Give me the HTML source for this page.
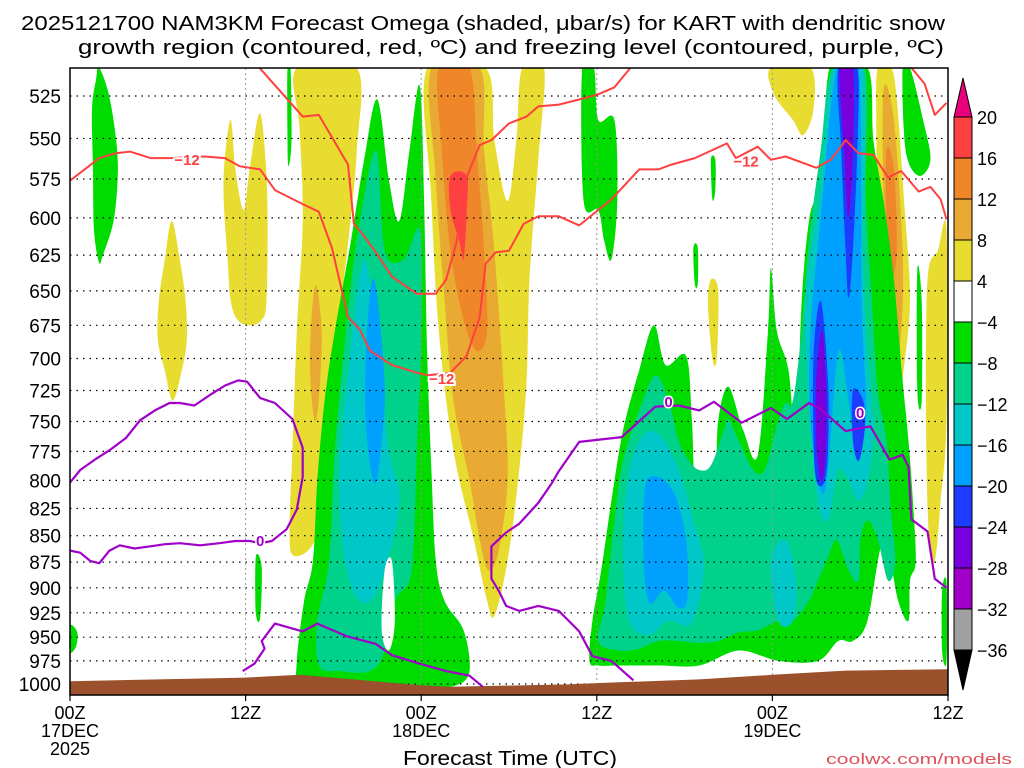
<!DOCTYPE html>
<html><head><meta charset="utf-8">
<style>
html,body{margin:0;padding:0;background:#fff;}
svg{display:block;font-family:"Liberation Sans",sans-serif;}
</style></head>
<body>
<svg id="chart" width="1024" height="768" viewBox="0 0 1024 768" xmlns="http://www.w3.org/2000/svg">
<rect x="0" y="0" width="1024" height="768" fill="#fff"/>
<text x="21" y="30" font-size="20" textLength="924" lengthAdjust="spacingAndGlyphs" fill="#000">2025121700 NAM3KM Forecast Omega (shaded, μbar/s) for KART with dendritic snow</text>
<text x="78" y="54" font-size="20" textLength="866" lengthAdjust="spacingAndGlyphs" fill="#000">growth region (contoured, red, ºC) and freezing level (contoured, purple, ºC)</text>
<defs><clipPath id="plotclip"><rect x="70" y="68" width="878" height="627"/></clipPath></defs>
<g id="shading" clip-path="url(#plotclip)"></g>
<g id="grid"></g>
<g id="terrain" clip-path="url(#plotclip)"></g>
<g id="contours" clip-path="url(#plotclip)"></g>
<rect x="70" y="68" width="878" height="627" fill="none" stroke="#000" stroke-width="1.5"/>
<g id="yaxis"></g>
<g id="xaxis"></g>
<text x="403" y="765" font-size="20" textLength="214" lengthAdjust="spacingAndGlyphs" fill="#000">Forecast Time (UTC)</text>
<text x="826" y="764" font-size="15" textLength="186" lengthAdjust="spacingAndGlyphs" fill="#e0505a">coolwx.com/models</text>
<g id="colorbar"></g>
</svg>
<script>
// ---- data ----
const pressureLevels = [525,550,575,600,625,650,675,700,725,750,775,800,825,850,875,900,925,950,975,1000];
const timeTickHours = [0,12,24,36,48,60];
const timeTickLabels = [["00Z","17DEC","2025"],["12Z"],["00Z","18DEC"],["12Z"],["00Z","19DEC"],["12Z"]];
const colorbarLabels = [20,16,12,8,4,-4,-8,-12,-16,-20,-24,-28,-32,-36];
const colorbarColors = ["#ff4040","#f0862a","#e8aa32","#e8dc30","#ffffff","#00dc00","#00d28c","#00c8c8","#00a0ff","#1e3cff","#7800dc","#a000c8","#a0a0a0"];

// shaded areas, points are [forecast hour, pressure hPa]
const yellowAreas = [
 [[6.95,602],[7.5,628],[7.9,657],[7.98,686],[7.64,709],[7.02,733],[6.48,709],[6.0,686],[6.07,657],[6.48,628]],
 [[10.98,539],[11.3,569],[11.86,595],[12.27,569],[12.95,535],[13.36,563],[13.5,601],[13.43,657],[13.1,671],[12.27,675],[11.45,671],[10.98,657],[10.77,628],[10.5,588],[10.57,563]],
 [[15.5,509],[19.6,509],[19.6,557],[19.1,608],[18.3,679],[17.7,749],[17.4,800],[16.7,855],[15.3,869],[15.0,845],[15.2,774],[15.5,679],[15.9,602],[15.7,545]],
 [[24.4,509],[28.4,509],[29.0,551],[29.9,589],[30.5,551],[30.9,509],[32.4,509],[32.0,563],[31.4,642],[31.2,717],[30.7,791],[29.9,874],[29.0,928],[28.5,913],[27.6,854],[26.2,774],[25.2,679],[24.7,589]],
 [[47.9,509],[50.6,509],[50.8,533],[50.1,548],[49.4,539],[48.1,524]],
 [[43.8,642],[44.3,650],[44.2,700],[43.9,700],[43.6,660]],
 [[55.2,509],[56.1,509],[56.5,527],[57.0,589],[57.4,657],[56.9,717],[56.6,766],[56.1,717],[55.6,657],[55.2,589],[55.1,539]],
 [[58.6,642],[59.3,622],[59.9,608],[59.9,749],[59.5,818],[59.1,874],[58.7,854],[58.5,749]]
];
const lightOrangeAreas = [
 [[16.8,646],[17.2,679],[17.0,733],[16.7,749],[16.4,709],[16.5,671]],
 [[24.7,509],[28.0,509],[28.3,557],[29.0,622],[29.7,733],[29.9,800],[29.3,864],[28.6,883],[28.0,854],[27.3,800],[26.2,733],[25.6,657],[25.0,576]],
 [[55.6,521],[56.3,539],[56.9,622],[56.8,679],[56.4,701],[55.9,657],[55.6,589]]
];
const orangeAreas = [
 [[25.2,509],[27.3,509],[27.8,557],[28.3,622],[28.5,679],[27.8,694],[26.9,671],[26.0,622],[25.4,557]],
 [[55.8,557],[56.3,569],[56.5,622],[56.1,642],[55.8,602]]
];
const redAreas = [
 [[26.0,573],[27.1,573],[27.1,598],[26.9,628],[26.6,615],[26.0,595]]
];
const greenAreas = [
 [[1.98,509],[2.59,522],[3.07,545],[3.27,569],[3.0,601],[2.25,625],[1.98,630],[1.64,608],[1.57,569],[1.5,533],[1.77,516]],
 [[0,938],[0.5,945],[0.4,960],[0,965]],
 [[14.86,509],[15.07,509],[15.14,551],[14.93,567],[14.86,551]],
 [[12.7,870],[13.1,880],[13.0,930],[12.7,925]],
 [[21.0,527],[21.8,576],[22.5,602],[23.2,557],[23.9,519],[24.2,589],[24.4,694],[24.7,791],[25.0,874],[25.6,913],[26.9,943],[27.3,986],[26.3,1002],[23.9,1005],[21.1,1007],[17.7,1005],[15.7,1002],[15.5,975],[16.0,913],[16.6,874],[16.9,800],[17.4,733],[18.1,679],[19.2,615],[20.1,563]],
 [[35.0,509],[35.8,509],[36.1,539],[37.2,539],[37.4,589],[37.0,628],[36.5,615],[36.1,595],[35.1,589]],
 [[43.8,563],[44.1,563],[44.1,582],[43.9,588]],
 [[42.6,620],[42.9,620],[42.9,645],[42.7,645]],
 [[35.5,975],[35.7,933],[36.3,883],[37.0,818],[37.8,757],[38.9,709],[39.9,675],[40.7,705],[42.1,698],[42.5,749],[42.8,809],[44.0,809],[44.3,749],[45.0,722],[46.0,757],[47.0,778],[47.7,679],[47.9,634],[48.3,679],[49.1,709],[49.6,766],[50.0,657],[50.5,602],[51.0,589],[51.5,598],[51.9,509],[54.5,509],[54.9,551],[55.6,589],[56.3,642],[56.9,717],[57.3,766],[57.6,818],[57.8,874],[57.4,893],[57.3,933],[56.6,913],[55.6,854],[54.5,933],[53.5,954],[52.5,954],[51.1,975],[48.4,975],[45.7,964],[43.0,980],[40.2,980],[37.5,980],[36.1,980]],
 [[56.9,509],[57.4,509],[58.3,539],[58.8,563],[58.0,573],[57.1,557]],
 [[57.9,635],[58.2,657],[58.2,733],[57.9,725]],
 [[59.6,903],[59.9,895],[59.9,975],[59.6,965]]
];
const tealAreas = [
 [[20.9,557],[21.5,622],[22.8,628],[23.9,608],[24.0,679],[23.7,774],[23.5,854],[23.2,893],[22.2,913],[21.5,964],[20.5,986],[18.4,986],[17.0,980],[16.9,933],[17.7,874],[18.1,774],[18.8,686],[19.6,615]],
 [[36.1,954],[36.6,913],[37.2,836],[37.8,783],[38.9,741],[40.0,713],[40.9,733],[41.6,766],[42.3,783],[43.0,791],[43.8,787],[44.7,757],[45.0,748],[45.7,766],[46.7,791],[47.5,790],[48.4,749],[48.9,735],[49.4,733],[50.0,679],[50.5,615],[51.3,557],[52.1,509],[54.3,509],[54.4,589],[54.8,657],[55.2,725],[55.8,766],[56.1,827],[56.4,874],[55.9,893],[55.2,854],[54.5,836],[54.0,854],[53.9,893],[53.2,883],[52.4,854],[51.7,874],[51.1,893],[50.5,913],[49.4,933],[48.4,933],[47.0,943],[45.7,945],[44.3,954],[43.0,956],[41.6,954],[40.2,954],[38.9,962],[37.5,964]]
];
const cyanAreas = [
 [[20.1,628],[21.1,694],[21.8,774],[22.5,809],[22.2,845],[21.0,903],[19.8,913],[18.8,874],[18.4,791],[19.1,701]],
 [[38.9,766],[40.2,760],[41.6,791],[42.6,836],[43.3,873],[43.0,913],[42.3,938],[40.9,933],[39.5,948],[38.2,933],[37.8,874],[38.0,809]],
 [[47.9,874],[48.9,854],[49.6,893],[49.4,933],[48.4,933]],
 [[50.3,650],[51.3,580],[52.2,509],[54.2,509],[54.2,621],[54.5,694],[54.9,757],[54.5,800],[53.9,818],[53.2,800],[52.5,791],[51.8,836],[51.1,818],[50.6,757],[50.3,694]]
];
const skyAreas = [
 [[20.8,642],[21.5,717],[21.3,766],[20.8,803],[20.2,749],[20.3,679]],
 [[39.3,806],[40.2,797],[41.3,812],[42.1,854],[42.2,910],[41.6,920],[40.6,903],[39.6,915],[39.2,874]],
 [[50.6,679],[51.3,600],[52.4,509],[53.9,509],[54.1,657],[54.4,733],[54.2,766],[53.7,774],[53.2,733],[52.5,694],[51.8,791],[51.3,809],[50.6,749]]
];
const blueAreas = [
 [[52.5,509],[53.8,509],[53.8,557],[53.5,622],[53.2,655],[53.0,622],[52.7,557]],
 [[50.8,701],[51.3,657],[51.8,717],[51.8,774],[51.5,803],[50.9,791]],
 [[53.5,725],[54.2,733],[54.3,757],[53.9,783],[53.5,766]]
];
const purpleAreas = [
 [[52.6,509],[53.5,509],[53.5,557],[53.2,600],[52.9,557]],
 [[51.0,717],[51.4,679],[51.7,733],[51.6,783],[51.3,800],[51.0,766]]
];
const calmHoles = [
 [[21.5,883],[22.0,874],[22.2,933],[21.8,964],[21.3,943]]
];

// surface pressure (terrain) by hour
const terrainHours = [0,12,15.7,24,26,34,36,43,48,53,60];
const terrainPressure = [997,993,990,1001.5,1003,1000.5,999,995,990,985.5,984];

// -12 C contours
const dgzLineA = [[12.95,509],[15.9,537],[17.0,536],[19.0,566],[19.4,604],[20.0,611],[20.9,623],[22.0,640],[23.7,652],[25.0,652],[25.7,642],[26.4,617],[27.1,574],[28.0,554],[28.8,551],[30.0,541],[31.2,537],[32.0,531],[33.4,530],[34.8,527],[36.1,524],[37.2,520],[38.3,509]];
const dgzLineB = [[0,576],[1.0,569],[2.0,562],[3.1,559],[4.1,558],[5.5,562],[6.8,562],[9.2,561],[10.6,562],[11.6,567],[13.0,569],[14.0,582],[15.9,591],[17.0,596],[17.9,620],[19.0,669],[19.8,678],[20.5,694],[22.0,705],[23.7,711],[24.5,713],[26.0,711],[27.1,698],[28.0,669],[28.4,631],[29.1,623],[30.0,622],[31.0,604],[32.0,599],[33.4,599],[34.8,605],[37.0,588],[38.9,569],[40.2,569],[41.1,566],[42.7,562],[44.9,553],[45.5,562],[47.0,555],[47.9,563],[48.9,561],[51.0,568],[52.0,563],[53.0,551],[53.9,559],[54.9,560],[55.9,574],[56.8,570],[58.0,583],[58.8,580],[59.5,588],[59.9,601]];
const dgzLineC = [[57.5,509],[58.4,518],[59.1,536],[59.9,529]];
const dgzLabels = [[8.0,563],[25.4,716],[46.2,564]];

// 0 C freezing level contours
const frzLine1 = [[0,802],[0.7,791],[1.7,782],[2.7,774],[3.8,764],[4.8,749],[5.8,741],[6.8,735],[7.5,735],[8.5,737],[9.5,729],[10.6,721],[11.5,717],[12.1,718],[13.0,731],[14.0,735],[15.2,748],[15.9,772],[15.9,797],[15.5,826],[14.8,844],[13.8,855],[13.0,857],[12.3,855],[11.3,855],[10.2,857],[8.9,859],[7.5,857],[6.5,858],[5.5,860],[4.4,862],[3.4,859],[2.7,864],[2.0,876],[1.4,874],[0.7,866],[0,864]];
const frzLine2 = [[11.8,986],[12.6,978],[13.3,962],[13.1,954],[14.0,936],[15.9,944],[16.9,936],[18.9,949],[20.9,957],[22.0,969],[23.9,978],[25.7,986],[27.3,991],[28.2,1003]];
const frzLine3 = [[38.5,996],[37.0,975],[35.7,970],[34.8,944],[33.4,923],[32.0,918],[30.7,923],[29.8,918],[29.3,903],[28.8,891],[28.8,860],[29.8,847],[30.7,839],[32.0,820],[32.9,803],[33.4,792],[34.8,767],[37.7,763],[40.0,738],[41.6,737],[43.0,741],[44.0,734],[45.9,751],[47.9,739],[49.0,748],[50.5,735],[51.3,740],[53.0,758],[54.7,754],[56.0,782],[56.9,778],[57.3,788],[57.5,835],[58.6,846],[59.1,891],[59.9,900]];
const frzLabels = [[13.0,855],[40.9,734],[54.0,743]];

// ---- scales ----
const NS = "http://www.w3.org/2000/svg";
const PLOT_L = 70, PLOT_R = 948, HOURS = 60;
function xs(h){ return PLOT_L + h * (PLOT_R - PLOT_L) / HOURS; }
function ys(p){ return 96 + 912.5 * Math.log(p / 525); }
function mk(tag, attrs, parent){ const e = document.createElementNS(NS, tag); for (const k in attrs) e.setAttribute(k, attrs[k]); parent.appendChild(e); return e; }
function smoothPath(pts){
  const P = pts.map(q => [xs(q[0]), ys(q[1])]); const n = P.length;
  let d = "M" + P[0][0].toFixed(1) + "," + P[0][1].toFixed(1);
  for (let i = 0; i < n; i++){
    const p0 = P[(i - 1 + n) % n], p1 = P[i], p2 = P[(i + 1) % n], p3 = P[(i + 2) % n];
    const c1 = [p1[0] + (p2[0] - p0[0]) / 6, p1[1] + (p2[1] - p0[1]) / 6];
    const c2 = [p2[0] - (p3[0] - p1[0]) / 6, p2[1] - (p3[1] - p1[1]) / 6];
    d += "C" + c1[0].toFixed(1) + "," + c1[1].toFixed(1) + " " + c2[0].toFixed(1) + "," + c2[1].toFixed(1) + " " + p2[0].toFixed(1) + "," + p2[1].toFixed(1);
  }
  return d + "Z";
}
function linePts(pts){ return pts.map(q => xs(q[0]).toFixed(1) + "," + ys(q[1]).toFixed(1)).join(" "); }

// ---- shading ----
const shading = document.getElementById("shading");
const layers = [
  [yellowAreas, "#e8dc30", "yellow-area"],
  [lightOrangeAreas, "#e8aa32", "light-orange-area"],
  [orangeAreas, "#f0862a", "orange-area"],
  [redAreas, "#ff4040", "red-area"],
  [greenAreas, "#00dc00", "green-area"],
  [tealAreas, "#00d28c", "teal-area"],
  [cyanAreas, "#00c8c8", "cyan-area"],
  [skyAreas, "#00a0ff", "sky-blue-area"],
  [blueAreas, "#1e3cff", "blue-area"],
  [purpleAreas, "#7800dc", "purple-area"],
  [calmHoles, "#ffffff", "calm-area"]
];
layers.forEach(L => {
  L[0].forEach(poly => {
    const el = mk("path", {d: smoothPath(poly), fill: L[1]}, shading);
    
    
  });
});

// ---- grid ----
const grid = document.getElementById("grid");
pressureLevels.forEach(p => {
  const el = mk("line", {x1: PLOT_L, x2: PLOT_R, y1: ys(p), y2: ys(p), stroke: "#000", "stroke-width": 1.2, "stroke-dasharray": "1.5 5"}, grid);
  
  
});
timeTickHours.slice(1, -1).forEach(h => {
  const el = mk("line", {x1: xs(h), x2: xs(h), y1: 68, y2: 695, stroke: "#999", "stroke-width": 1, "stroke-dasharray": "2 3"}, grid);
  
  
});

// ---- terrain ----
const terrain = document.getElementById("terrain");
{
  let pts = terrainHours.map((h, i) => xs(h).toFixed(1) + "," + ys(terrainPressure[i]).toFixed(1));
  pts.push(xs(HOURS) + ",700", xs(0) + ",700");
  const el = mk("polygon", {points: pts.join(" "), fill: "#9b522c"}, terrain);
  
  
}

// ---- contours ----
const cont = document.getElementById("contours");
[dgzLineA, dgzLineB, dgzLineC].forEach(L => {
  const el = mk("polyline", {points: linePts(L), fill: "none", stroke: "#ff4040", "stroke-width": 2, "stroke-linejoin": "round"}, cont);
  
  
});
[frzLine1, frzLine2, frzLine3].forEach(L => {
  const el = mk("polyline", {points: linePts(L), fill: "none", stroke: "#a000c8", "stroke-width": 2.2, "stroke-linejoin": "round"}, cont);
  
  
});
dgzLabels.forEach(q => {
  const t = mk("text", {x: xs(q[0]), y: ys(q[1]) + 5, "font-size": 15, "font-weight": "bold", "text-anchor": "middle", fill: "#ff4040", stroke: "#fff", "stroke-width": 4, "paint-order": "stroke"}, cont);
  t.textContent = "\u221212";
  
  
});
frzLabels.forEach(q => {
  const t = mk("text", {x: xs(q[0]), y: ys(q[1]) + 5, "font-size": 15, "font-weight": "bold", "text-anchor": "middle", fill: "#a000c8", stroke: "#fff", "stroke-width": 3, "paint-order": "stroke"}, cont);
  t.textContent = "0";
  
  
});

// ---- axes ----
const yax = document.getElementById("yaxis");
pressureLevels.forEach(p => {
  const t = mk("text", {x: 61, y: ys(p) + 7, "font-size": 19, "text-anchor": "end", fill: "#000"}, yax);
  t.textContent = p;
  
  
});
const xax = document.getElementById("xaxis");
timeTickHours.forEach((h, i) => {
  const tk = mk("line", {x1: xs(h), x2: xs(h), y1: 695, y2: 701, stroke: "#000", "stroke-width": 1.2}, xax);
  
  
  timeTickLabels[i].forEach((s, j) => {
    const t = mk("text", {x: xs(h), y: 719 + j * 18, "font-size": 18, "text-anchor": "middle", fill: "#000"}, xax);
    t.textContent = s;
    
    
  });
});

// ---- colorbar ----
const cb = document.getElementById("colorbar");
const CB_X = 954, CB_W = 18, CB_TOP = 117, CB_STEP = 41;
colorbarColors.forEach((c, i) => {
  const r = mk("rect", {x: CB_X, y: CB_TOP + i * CB_STEP, width: CB_W, height: CB_STEP, fill: c, stroke: "#000", "stroke-width": 1}, cb);
  
  
});
{
  const yb = CB_TOP + colorbarColors.length * CB_STEP;
  const t1 = mk("polygon", {points: `${CB_X},${CB_TOP} ${CB_X + CB_W},${CB_TOP} ${CB_X + CB_W / 2},${CB_TOP - 39}`, fill: "#e8007c", stroke: "#000", "stroke-width": 1}, cb);
  
  
  const t2 = mk("polygon", {points: `${CB_X},${yb} ${CB_X + CB_W},${yb} ${CB_X + CB_W / 2},${yb + 40}`, fill: "#000", stroke: "#000", "stroke-width": 1}, cb);
  
  
}
colorbarLabels.forEach((v, i) => {
  const t = mk("text", {x: 977, y: CB_TOP + i * CB_STEP + 7, "font-size": 18, fill: "#000"}, cb);
  t.textContent = v < 0 ? "\u2212" + Math.abs(v) : String(v);
  
  
});
</script>
</body></html>
